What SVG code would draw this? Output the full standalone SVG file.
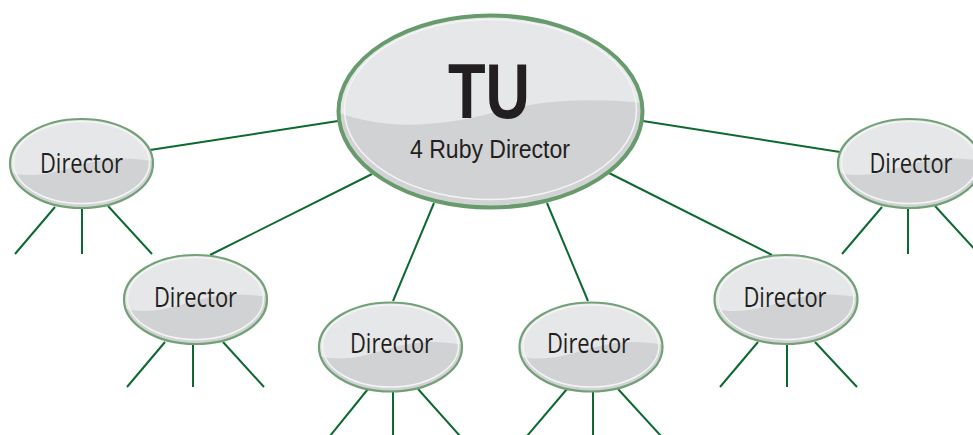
<svg xmlns="http://www.w3.org/2000/svg" width="973" height="435" viewBox="0 0 973 435">
<style>
  .conn line { stroke: #0c6a30; stroke-width: 2; stroke-linecap: butt; }
  .lbl { font-family: "Open Sans", "Liberation Sans", sans-serif; fill: #231f20; text-anchor: middle; }
  .main-lbl { font-family: "Liberation Sans", Arial, sans-serif; fill: #231f20; text-anchor: middle; }
  .small-lbl { font-size: 27.5px; }
  .edge-s { fill: none; stroke: #72a077; stroke-width: 2.2; }
  .edge-m { fill: none; stroke: #679b6c; stroke-width: 4; }
  .base { fill: #d1d2d4; }
  .hi { fill: #e6e7e9; }
  .rim { fill: none; stroke: #f4f4f5; stroke-width: 1.5; }
</style>
<defs>
  <clipPath id="clipS"><ellipse cx="0" cy="0" rx="71.5" ry="44.5"/></clipPath>
  <clipPath id="clipM"><ellipse cx="0" cy="0" rx="152" ry="96"/></clipPath>
  <g id="smallShape">
    <ellipse class="base" cx="0" cy="0" rx="71.5" ry="44.5"/>
    <path class="hi" clip-path="url(#clipS)" d="M -75,-50 L 75,-50 L 75,-2 C 45,-7 25,-6 0,1 C -25,9 -50,16 -75,8 Z"/>
    <ellipse class="rim" cx="0" cy="-1" rx="68" ry="41" clip-path="url(#clipS)"/>
    <ellipse class="edge-s" cx="0" cy="0" rx="71.5" ry="44.5"/>
  </g>
</defs>

<g id="connectors" class="conn">
  <line x1="150" y1="150" x2="338" y2="121"/>
  <line x1="210" y1="255" x2="372" y2="174"/>
  <line x1="393" y1="301" x2="434" y2="203"/>
  <line x1="547" y1="203" x2="588" y2="301"/>
  <line x1="643" y1="121" x2="840" y2="152"/>
  <line x1="609" y1="173" x2="772" y2="255"/>
  <!-- legs node 1 -->
  <line x1="55" y1="207" x2="15" y2="254"/>
  <line x1="82" y1="208" x2="82" y2="254"/>
  <line x1="108" y1="206" x2="152" y2="254"/>
  <!-- legs node right top -->
  <line x1="882" y1="207" x2="842" y2="254"/>
  <line x1="908" y1="208" x2="908" y2="254"/>
  <line x1="935" y1="206" x2="979" y2="254"/>
  <!-- legs node 2 -->
  <line x1="165" y1="342" x2="127" y2="387"/>
  <line x1="193" y1="343" x2="193" y2="387"/>
  <line x1="223" y1="342" x2="264" y2="387"/>
  <!-- legs node 6 -->
  <line x1="758" y1="342" x2="720" y2="387"/>
  <line x1="787" y1="343" x2="787" y2="387"/>
  <line x1="815" y1="342" x2="857" y2="387"/>
  <!-- legs node 4 -->
  <line x1="368" y1="389" x2="330" y2="436"/>
  <line x1="393" y1="391" x2="393" y2="436"/>
  <line x1="418" y1="389" x2="460" y2="436"/>
  <!-- legs node 5 -->
  <line x1="567" y1="389" x2="527" y2="436"/>
  <line x1="593" y1="391" x2="593" y2="436"/>
  <line x1="618" y1="389" x2="661" y2="436"/>
</g>

<g id="node-tu" transform="translate(490.5,111.5)">
  <ellipse class="base" cx="0" cy="0" rx="152" ry="96"/>
  <path class="hi" clip-path="url(#clipM)" d="M -160,-100 L 160,-100 L 160,-8 C 90,-15 45,-10 0,2 C -50,15 -110,20 -160,-2 Z"/>
  <ellipse class="rim" cx="0" cy="-2" rx="146" ry="90" clip-path="url(#clipM)"/>
  <ellipse class="edge-m" cx="0" cy="0" rx="152" ry="96"/>
  <text class="main-lbl" x="-1.5" y="6" font-size="78" font-weight="bold" textLength="82" lengthAdjust="spacingAndGlyphs">TU</text>
  <text class="main-lbl" x="-0.5" y="46" font-size="26" textLength="160" lengthAdjust="spacingAndGlyphs">4 Ruby Director</text>
</g>

<g id="node-d1" transform="translate(81.5,163.5)">
  <use href="#smallShape"/>
  <text class="lbl small-lbl" x="0" y="9.5" textLength="83" lengthAdjust="spacingAndGlyphs">Director</text>
</g>

<g id="node-d2" transform="translate(195.5,299.5)">
  <use href="#smallShape"/>
  <text class="lbl small-lbl" x="0" y="7.5" textLength="83" lengthAdjust="spacingAndGlyphs">Director</text>
</g>

<g id="node-d3" transform="translate(390.5,347)">
  <use href="#smallShape"/>
  <text class="lbl small-lbl" x="1" y="6" textLength="83" lengthAdjust="spacingAndGlyphs">Director</text>
</g>

<g id="node-d4" transform="translate(591,347)">
  <use href="#smallShape"/>
  <text class="lbl small-lbl" x="-2.5" y="6" textLength="83" lengthAdjust="spacingAndGlyphs">Director</text>
</g>

<g id="node-d5" transform="translate(786,299.5)">
  <use href="#smallShape"/>
  <text class="lbl small-lbl" x="-1" y="7.5" textLength="83" lengthAdjust="spacingAndGlyphs">Director</text>
</g>

<g id="node-d6" transform="translate(909.5,163.5)">
  <use href="#smallShape"/>
  <text class="lbl small-lbl" x="1.5" y="9.5" textLength="83" lengthAdjust="spacingAndGlyphs">Director</text>
</g>
</svg>
